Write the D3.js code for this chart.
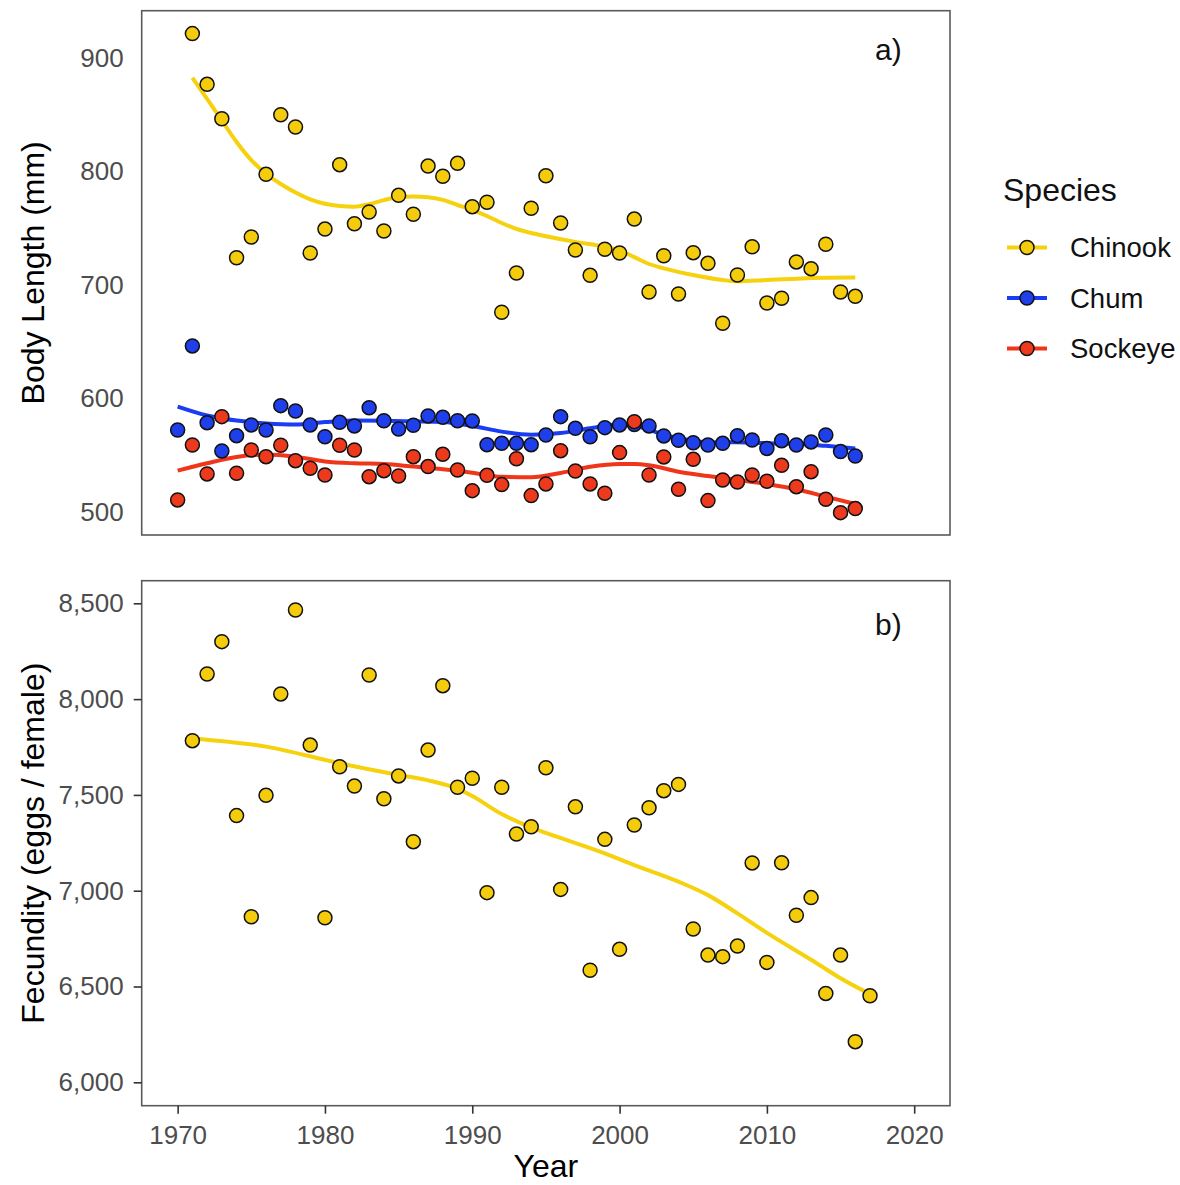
<!DOCTYPE html>
<html><head><meta charset="utf-8">
<script src="https://cdn.jsdelivr.net/npm/d3@7"></script>
<style>
body{margin:0;background:#fff}
text{font-family:"Liberation Sans",Arial,Helvetica,sans-serif}
</style>
</head><body>
<svg id="chart" width="1180" height="1185"></svg>
<script>
// ---------------- data ----------------
const species = ["Chinook", "Chum", "Sockeye"];
const speciesFill = ["#F5CC0C", "#1E3FEA", "#EE3A1C"];
const speciesLine = ["#F5D10E", "#1A3CF2", "#F0361A"];

const chinookYears = d3.range(1971, 2017);
const chinookLength = [921.5, 876.8, 846.5, 724, 742.3, 797.5, 850, 839.2, 728.2, 749.3,
  806, 754, 764.3, 747.6, 779, 762.3, 804.8, 795.8, 807.2, 769,
  772.9, 676, 710.6, 767.6, 796.3, 754.6, 730.8, 708.5, 731.5, 728.2,
  758.1, 693.8, 725.8, 692.1, 728.5, 719.1, 666.3, 708.8, 733.7, 684.1,
  688.3, 720.3, 714.4, 735.9, 693.8, 690];

const chumYears = d3.range(1970, 2017);
const chumLength = [572.2, 646.3, 578.7, 553.7, 567.2, 576.7, 572.2, 593.7, 589, 576.7,
  566.3, 579, 575.8, 591.9, 580.4, 573, 576.4, 584.6, 583.4, 580.4,
  580.2, 559.3, 560.5, 560.5, 559.3, 567.8, 584, 573.7, 566.3, 574.3,
  576.7, 577, 575.8, 567, 563.2, 561, 559, 560.5, 567.2, 563.4,
  556, 562.8, 559, 561.7, 567.8, 553.2, 549.3];

const sockeyeYears = d3.range(1970, 2017);
const sockeyeLength = [510.6, 559, 533.5, 584, 534.1, 554.6, 548.7, 558.8, 545.2, 538.5,
  532.6, 558.8, 554.6, 531.1, 536.4, 531.7, 548.7, 540, 550.8, 537,
  518.8, 532.3, 524.1, 546.9, 514.4, 524.7, 554, 536.1, 524.7, 516.5,
  552.3, 579.6, 532.6, 548.5, 520, 546.4, 510, 528.2, 526.4, 532.6,
  527, 541.1, 522.3, 535.5, 511.2, 499.4, 503];

// smoothed trend lines
const chinookSmoothYears = [1971, 1972, 1973, 1974, 1975, 1976, 1977, 1978, 1979, 1980, 1981, 1982, 1983, 1984, 1985, 1986, 1987, 1988, 1989, 1990, 1991, 1992, 1993, 1994, 1995, 1997, 1999, 2000, 2001, 2002, 2003, 2005, 2007, 2008, 2010, 2012, 2014, 2016];
const chinookSmooth = [882.6, 864, 845, 826, 810, 798, 789, 781.5, 775.5, 771.6, 769.6, 769, 771.2, 774.8, 777.3, 777.9, 777.3, 775, 770.5, 766, 760.8, 754.6, 749.4, 745.8, 743, 738, 733.7, 730.5, 724.5, 718.5, 714.7, 708.8, 704.4, 703.2, 704.4, 705.6, 706.3, 706.5];

const chumSmoothYears = [1970, 1972, 1974, 1976, 1978, 1980, 1982, 1984, 1986, 1988, 1990, 1992, 1994, 1996, 1998, 2000, 2001, 2002, 2003, 2004, 2006, 2008, 2010, 2012, 2014, 2016];
const chumSmooth = [592.8, 585, 580.5, 578, 577, 579.2, 580.6, 580.4, 579.8, 579.2, 575.8, 570.8, 568, 569.5, 573.7, 577, 576, 572.5, 568, 565, 561.3, 561.5, 560.6, 560.2, 558.3, 556];

const sockeyeSmoothYears = [1970, 1972, 1974, 1976, 1978, 1980, 1982, 1984, 1986, 1988, 1990, 1992, 1994, 1996, 1998, 2000, 2001, 2002, 2004, 2006, 2008, 2010, 2012, 2014, 2016];
const sockeyeSmooth = [536.4, 542.9, 548.5, 550.6, 548.7, 544.5, 542.9, 542.3, 540, 537.6, 534.6, 531, 530.6, 534.4, 539.8, 542.3, 542.3, 541.2, 535.5, 531.7, 528.2, 524.7, 520, 513.5, 507];

const fecundityYears = d3.range(1971, 2018);
const fecundity = [7783, 8131, 8300, 7392, 6864, 7498, 8027, 8465, 7760, 6859,
  7647, 7546, 8126, 7480, 7599, 7256, 7734, 8070, 7540, 7587,
  6990, 7540, 7296, 7334, 7642, 7007, 7438, 6585, 7268, 6694,
  7343, 7433, 7522, 7555, 6800, 6664, 6656, 6711, 7145, 6626,
  7146, 6872, 6964, 6464, 6664, 6212, 6452];
const fecunditySmoothYears = [1971, 1976, 1981, 1985, 1987, 1989, 1990, 1992, 1994, 1995, 1999, 2001, 2004, 2006, 2008, 2010, 2013, 2015, 2017];
const fecunditySmooth = [7795, 7752, 7665, 7604, 7576, 7532, 7494, 7400, 7330, 7302, 7195, 7134, 7047, 6977, 6882, 6780, 6640, 6543, 6460];

const yearTicks = [1970, 1980, 1990, 2000, 2010, 2020];
const lengthTicks = [500, 600, 700, 800, 900];
const fecundityTicks = [6000, 6500, 7000, 7500, 8000, 8500];

// ---------------- layout ----------------
const svg = d3.select("#chart");
svg.append("rect").attr("width", 1180).attr("height", 1185).attr("fill", "#fff");

const L = 141.7, R = 950;
const topP = {t: 10.7, b: 535};
const botP = {t: 580.7, b: 1105.7};

const x = d3.scaleLinear().domain([1967.56, 2022.43]).range([L, R]);
const yTop = d3.scaleLinear().domain([479.7, 941.7]).range([topP.b, topP.t]);
const yBot = d3.scaleLinear().domain([5878, 8618]).range([botP.b, botP.t]);

const lineGen = (ys) => d3.line().x(d => x(d[0])).y(d => ys(d[1])).curve(d3.curveMonotoneX);

const tickFont = 26, tickColor = "#4D4D4D";
const ptR = 7, ptSW = 1.5, lineW = 4;

// ---------- panel a ----------
const gA = svg.append("g");
const seriesA = [
  {years: chinookYears, vals: chinookLength, sy: chinookSmoothYears, sv: chinookSmooth},
  {years: chumYears, vals: chumLength, sy: chumSmoothYears, sv: chumSmooth},
  {years: sockeyeYears, vals: sockeyeLength, sy: sockeyeSmoothYears, sv: sockeyeSmooth}
];
seriesA.forEach((s, i) => {
  gA.append("path")
    .datum(d3.zip(s.sy, s.sv))
    .attr("d", lineGen(yTop))
    .attr("fill", "none")
    .attr("stroke", speciesLine[i])
    .attr("stroke-width", lineW)
    .attr("stroke-linecap", "butt");
});
seriesA.forEach((s, i) => {
  gA.append("g").selectAll("circle")
    .data(d3.zip(s.years, s.vals))
    .join("circle")
    .attr("cx", d => x(d[0]))
    .attr("cy", d => yTop(d[1]))
    .attr("r", ptR)
    .attr("fill", speciesFill[i])
    .attr("stroke", "#111")
    .attr("stroke-width", ptSW);
});
gA.append("rect").attr("x", L).attr("y", topP.t).attr("width", R - L).attr("height", topP.b - topP.t)
  .attr("fill", "none").attr("stroke", "#5a5a5a").attr("stroke-width", 1.6);

const axA = svg.append("g").attr("transform", `translate(${L},0)`)
  .call(d3.axisLeft(yTop).tickValues(lengthTicks).tickSize(0).tickPadding(18));
axA.select(".domain").remove();
axA.selectAll("text").attr("font-size", tickFont).attr("fill", tickColor)
  .attr("font-family", "'Liberation Sans', Arial, sans-serif");

svg.append("text").attr("transform", `translate(44,${(topP.t + topP.b) / 2}) rotate(-90)`)
  .attr("text-anchor", "middle").attr("font-size", 32).attr("fill", "#000")
  .text("Body Length (mm)");

svg.append("text").attr("x", 875).attr("y", 60).attr("font-size", 30).attr("fill", "#111").text("a)");

// ---------- panel b ----------
const gB = svg.append("g");
gB.append("path")
  .datum(d3.zip(fecunditySmoothYears, fecunditySmooth))
  .attr("d", lineGen(yBot))
  .attr("fill", "none")
  .attr("stroke", speciesLine[0])
  .attr("stroke-width", lineW);
gB.append("g").selectAll("circle")
  .data(d3.zip(fecundityYears, fecundity))
  .join("circle")
  .attr("cx", d => x(d[0]))
  .attr("cy", d => yBot(d[1]))
  .attr("r", ptR)
  .attr("fill", speciesFill[0])
  .attr("stroke", "#111")
  .attr("stroke-width", ptSW);
gB.append("rect").attr("x", L).attr("y", botP.t).attr("width", R - L).attr("height", botP.b - botP.t)
  .attr("fill", "none").attr("stroke", "#5a5a5a").attr("stroke-width", 1.6);

const axB = svg.append("g").attr("transform", `translate(${L},0)`)
  .call(d3.axisLeft(yBot).tickValues(fecundityTicks).tickSize(8).tickPadding(10).tickFormat(d3.format(",")));
axB.select(".domain").remove();
axB.selectAll("line").attr("stroke", "#333").attr("stroke-width", 1.6);
axB.selectAll("text").attr("font-size", tickFont).attr("fill", tickColor)
  .attr("font-family", "'Liberation Sans', Arial, sans-serif");

const axX = svg.append("g").attr("transform", `translate(0,${botP.b})`)
  .call(d3.axisBottom(x).tickValues(yearTicks).tickSize(8).tickPadding(12).tickFormat(d3.format("d")));
axX.select(".domain").remove();
axX.selectAll("line").attr("stroke", "#333").attr("stroke-width", 1.6);
axX.selectAll("text").attr("font-size", tickFont).attr("fill", tickColor)
  .attr("font-family", "'Liberation Sans', Arial, sans-serif");

svg.append("text").attr("transform", `translate(44,${(botP.t + botP.b) / 2}) rotate(-90)`)
  .attr("text-anchor", "middle").attr("font-size", 32).attr("fill", "#000")
  .text("Fecundity (eggs / female)");

svg.append("text").attr("x", (L + R) / 2).attr("y", 1177).attr("text-anchor", "middle")
  .attr("font-size", 32).attr("fill", "#000").text("Year");

svg.append("text").attr("x", 875).attr("y", 635).attr("font-size", 30).attr("fill", "#111").text("b)");

// ---------- legend ----------
const leg = svg.append("g");
leg.append("text").attr("x", 1003).attr("y", 201).attr("font-size", 32).attr("fill", "#111").text("Species");
const legY = [247.5, 298, 348.5];
species.forEach((sp, i) => {
  leg.append("line").attr("x1", 1007).attr("x2", 1047).attr("y1", legY[i]).attr("y2", legY[i])
    .attr("stroke", speciesLine[i]).attr("stroke-width", lineW);
  leg.append("circle").attr("cx", 1027).attr("cy", legY[i]).attr("r", ptR)
    .attr("fill", speciesFill[i]).attr("stroke", "#111").attr("stroke-width", ptSW);
  leg.append("text").attr("x", 1070).attr("y", legY[i]).attr("dy", "0.36em")
    .attr("font-size", 27.5).attr("fill", "#111").text(sp);
});
</script>
</body></html>
